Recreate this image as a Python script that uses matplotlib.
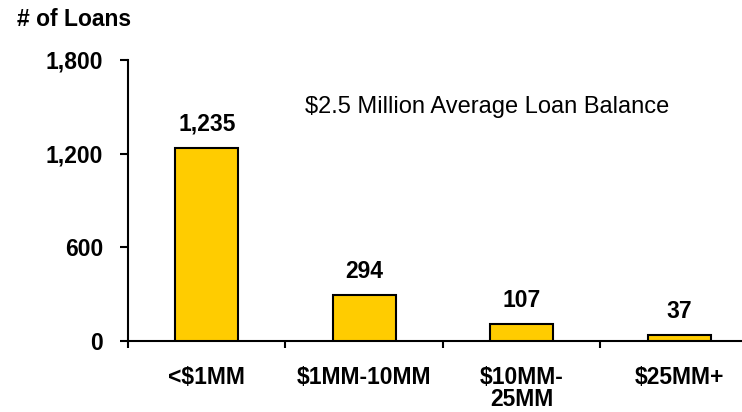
import matplotlib
matplotlib.use('Agg')
from matplotlib import pyplot as plt
import numpy as np

# data
categories = ['<$1MM', '$1MM-10MM', '$10MM-\n25MM', '$25MM+']
loan_counts = [1235, 294, 107, 37]
y_ticks = [0, 600, 1200, 1800]
note_text = '$2.5 Million Average Loan Balance'

plt.rcParams['font.family'] = ['Liberation Sans', 'DejaVu Sans']

fig = plt.figure(figsize=(7.42, 4.12), dpi=100)
# axes box in figure fractions (left 128px, bottom 341px, top 60px)
ax = fig.add_axes([128 / 742, (412 - 341) / 412, 1 - 128 / 742, (341 - 60) / 412])

x = np.arange(len(categories))
ax.bar(x, loan_counts, width=0.4, color='#FFCC00', edgecolor='black', linewidth=1.5, zorder=3)

# value labels above the bars
for xi, v in zip(x, loan_counts):
    ax.annotate(f'{v:,}', (xi, v), xytext=(0, 9), textcoords='offset points',
                ha='center', va='bottom', fontsize=16.5, fontweight='bold')

ax.text(1.78, 1500, note_text, ha='center', va='center', fontsize=17)

ax.set_xlim(-0.5, 3.4)
ax.set_ylim(0, 1800)
ax.set_yticks(y_ticks)
ax.set_yticklabels([f'{t:,}' for t in y_ticks], fontsize=16.5, fontweight='bold')

ax.set_xticks(x)
ax.set_xticklabels(categories, fontsize=16.5, fontweight='bold', linespacing=0.95)
ax.set_xticks(np.arange(-0.5, 3, 1.0), minor=True)
ax.tick_params(axis='x', which='major', length=0, pad=18)
ax.tick_params(axis='x', which='minor', length=5, width=1.5, direction='out')
ax.tick_params(axis='y', length=6, width=1.5, direction='out', pad=12)

for side in ['top', 'right']:
    ax.spines[side].set_visible(False)
for side in ['left', 'bottom']:
    ax.spines[side].set_linewidth(1.5)

fig.text(17 / 742, 1 - 20 / 412, '# of Loans', ha='left', va='center', fontsize=16.5, fontweight='bold')

fig.savefig('out.png', dpi=100)
plt.close()
